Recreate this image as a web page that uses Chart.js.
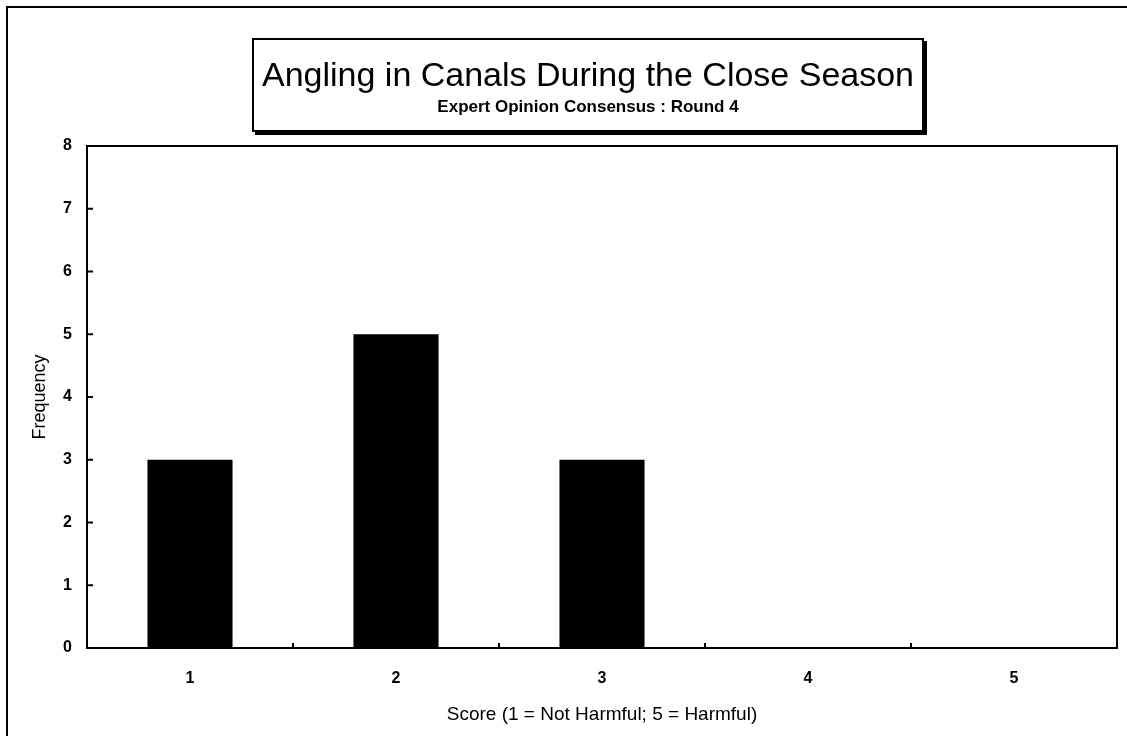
<!DOCTYPE html>
<html>
<head>
<meta charset="utf-8">
<title>Angling in Canals During the Close Season</title>
<script src="https://cdn.jsdelivr.net/npm/chart.js@4.4.0/dist/chart.umd.min.js"></script>
<style>
	html, body { margin: 0; padding: 0; background: #fff; overflow: hidden; }
	#wrap { position: relative; width: 1127px; height: 736px; }
	#frame { position: absolute; left: 6px; top: 6px; width: 1300px; height: 900px; border: 2px solid #000; box-sizing: border-box; }
	#titlebox {
		position: absolute; left: 252px; top: 38px; width: 672px; height: 94px;
		border: 2px solid #000; box-sizing: border-box; background: #fff;
		box-shadow: 3px 3px 0 #000; text-align: center;
		font-family: "Liberation Sans", Arial, sans-serif; color: #000;
	}
	#titlebox .main { font-size: 34px; margin-top: 15px; line-height: 38px; white-space: nowrap; }
	#titlebox .sub { font-size: 17px; font-weight: bold; line-height: 20px; margin-top: 4px; }
	canvas { position: absolute; left: 0; top: 0; }
</style>
</head>
<body>
<div id="wrap">
	<div id="frame"></div>
	<canvas id="myChart" width="1127" height="736"></canvas>
	<div id="titlebox">
		<div class="main">Angling in Canals During the Close Season</div>
		<div class="sub">Expert Opinion Consensus : Round 4</div>
	</div>
</div>
<script>
	// dane wykresu
	const scores = ['1', '2', '3', '4', '5']
	const frequency = [3, 5, 3, 0, 0]
	const yTicks = [0, 1, 2, 3, 4, 5, 6, 7, 8]

	// ramka wykresu i krótkie kreski podziałki do środka
	const frameTicks = {
		id: 'frameTicks',
		afterDatasetsDraw(chart) {
			const ctx = chart.ctx
			const a = chart.chartArea
			const x = chart.scales.x
			const y = chart.scales.y
			ctx.save()
			ctx.strokeStyle = '#000'
			ctx.lineWidth = 2
			ctx.strokeRect(a.left, a.top, a.right - a.left, a.bottom - a.top)
			ctx.beginPath()
			yTicks.forEach(v => {
				const py = y.getPixelForValue(v)
				ctx.moveTo(a.left, py)
				ctx.lineTo(a.left + 6, py)
			})
			for (let i = 0; i <= scores.length; i++) {
				const px = x.getPixelForValue(i - 0.5)
				ctx.moveTo(px, a.bottom)
				ctx.lineTo(px, a.bottom - 5)
			}
			ctx.stroke()
			ctx.restore()
		}
	}

	const ctx = document.getElementById('myChart').getContext('2d')
	const chart = new Chart(ctx, {
		type: 'bar',
		data: {
			labels: scores,
			datasets: [{
				data: frequency,
				backgroundColor: '#000',
				borderWidth: 0,
				categoryPercentage: 1,
				barPercentage: 0.413
			}]
		},
		options: {
			responsive: false,
			animation: false,
			layout: { padding: { left: 0, top: 146, right: 10, bottom: 0 } },
			plugins: {
				legend: { display: false },
				tooltip: { enabled: false }
			},
			scales: {
				x: {
					afterFit: s => { s.height = 88 },
					grid: { display: false, drawTicks: false },
					border: { display: false },
					ticks: {
						color: '#000', padding: 21,
						font: { family: 'Liberation Sans', size: 16, weight: 'bold' }
					},
					title: {
						display: true, text: 'Score (1 = Not Harmful; 5 = Harmful)', color: '#000',
						padding: { top: 10, bottom: 10 },
						font: { family: 'Liberation Sans', size: 19 }
					}
				},
				y: {
					min: 0, max: 8,
					afterFit: s => { s.width = 87 },
					afterBuildTicks: s => { s.ticks = yTicks.map(v => ({ value: v })) },
					grid: { display: false, drawTicks: false },
					border: { display: false },
					ticks: {
						color: '#000', padding: 15,
						font: { family: 'Liberation Sans', size: 16, weight: 'bold' }
					},
					title: {
						display: true, text: 'Frequency', color: '#000',
						padding: { top: 29, bottom: 29 },
						font: { family: 'Liberation Sans', size: 18 }
					}
				}
			}
		},
		plugins: [frameTicks]
	})
</script>
</body>
</html>
